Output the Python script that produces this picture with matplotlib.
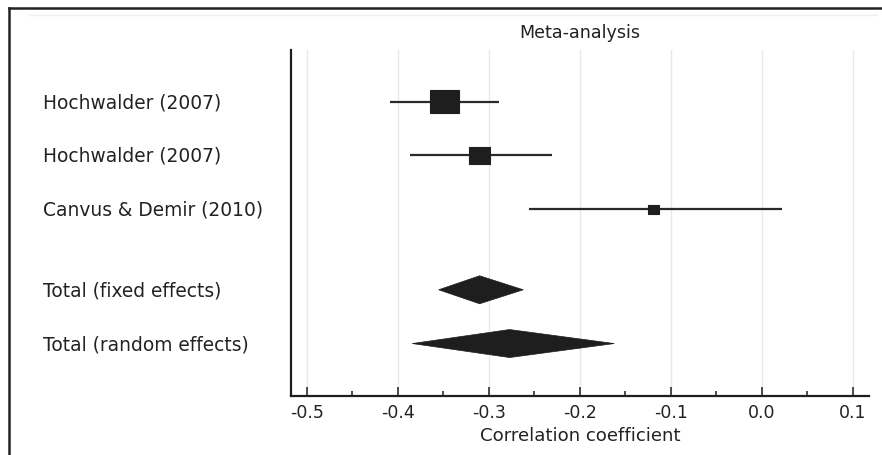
import matplotlib
matplotlib.use("Agg")
import matplotlib.pyplot as plt
from matplotlib.patches import Rectangle, Polygon
from matplotlib.lines import Line2D
from matplotlib.transforms import blended_transform_factory
from matplotlib.ticker import MultipleLocator
import numpy as np

# ---- data ----
study_labels = ["Hochwalder (2007)", "Hochwalder (2007)", "Canvus & Demir (2010)"]
study_r = [-0.349, -0.310, -0.119]
study_lo = [-0.409, -0.386, -0.256]
study_hi = [-0.289, -0.230, 0.022]
study_weight = [58.0, 32.5, 9.5]

pooled_labels = ["Total (fixed effects)", "Total (random effects)"]
pooled_r = [-0.310, -0.277]
pooled_lo = [-0.355, -0.384]
pooled_hi = [-0.262, -0.162]

x_ticks = [-0.5, -0.4, -0.3, -0.2, -0.1, 0.0, 0.1]
x_ticklabels = ["-0.5", "-0.4", "-0.3", "-0.2", "-0.1", "0.0", "0.1"]

title = "Meta-analysis"
xlabel = "Correlation coefficient"

# ---- figure ----
W, H, DPI = 882, 456, 100
fig = plt.figure(figsize=(W / DPI, H / DPI), dpi=DPI)
plt.rcParams['font.family'] = ['DejaVu Sans']
ink = '#1e1e1e'

ax = fig.add_axes([291 / W, 1 - 396.7 / H, (869 - 291) / W, (396.7 - 50.7) / H])
ax.set_xlim(-0.5173, 0.118)

study_y = [1, 2, 3]
pooled_y = [4.5, 5.5]
ax.set_ylim(6.47, 0.035)

# grid
ax.set_xticks(x_ticks)
ax.set_xticklabels(x_ticklabels)
ax.xaxis.set_minor_locator(MultipleLocator(0.05))
ax.grid(axis='x', which='major', color='#e8e8e8', lw=1.0, zorder=0)
ax.set_axisbelow(True)

for s in ['top', 'right']:
    ax.spines[s].set_visible(False)
for s in ['left', 'bottom']:
    ax.spines[s].set_linewidth(1.6)
    ax.spines[s].set_color(ink)
ax.set_yticks([])
ax.tick_params(axis='x', which='major', direction='in', length=6.5, width=1.1,
               color=ink, labelsize=12.5, labelcolor='#222222', pad=5)
ax.tick_params(axis='x', which='minor', direction='in', length=3.5, width=1.1, color=ink)

# pixel scale for marker sizes
ax_w_px = (869 - 291)
ax_h_px = (396.7 - 50.7)
px_per_x = ax_w_px / (0.118 + 0.5173)
px_per_y = ax_h_px / (6.47 - 0.035)

# studies
k = 3.81
for y, r, lo, hi, wgt in zip(study_y, study_r, study_lo, study_hi, study_weight):
    ax.plot([lo, hi], [y, y], color='#2a2a2a', lw=1.6, solid_capstyle='butt', zorder=2)
    side_w = k * np.sqrt(wgt)
    side_h = side_w / 1.3
    wd = side_w / px_per_x
    hd = side_h / px_per_y
    ax.add_patch(Rectangle((r - wd / 2, y - hd / 2), wd, hd, facecolor=ink,
                           edgecolor=ink, lw=0.8, zorder=3))

# pooled diamonds
dh = 14 / px_per_y
for y, r, lo, hi in zip(pooled_y, pooled_r, pooled_lo, pooled_hi):
    ax.add_patch(Polygon([[lo, y], [r, y - dh], [hi, y], [r, y + dh]], closed=True,
                         facecolor=ink, edgecolor=ink, lw=0.5, zorder=3))

# row labels
tr = blended_transform_factory(fig.transFigure, ax.transData)
for y, lab in zip(study_y + pooled_y, study_labels + pooled_labels):
    ax.text(43 / W, y, lab, transform=tr, ha='left', va='center', fontsize=13.4,
            color='#222222')

ax.set_title(title, fontsize=12.6, color='#222222', pad=9)
ax.set_xlabel(xlabel, fontsize=13.1, color='#222222', labelpad=4)

# frame lines of the figure
fig.add_artist(Line2D([9 / W, 1.0], [1 - 9 / H, 1 - 9 / H], transform=fig.transFigure,
                      color='#222222', lw=1.8))
fig.add_artist(Line2D([9 / W, 9 / W], [1 - 9 / H, 0.0], transform=fig.transFigure,
                      color='#222222', lw=1.8))
fig.add_artist(Line2D([29 / W, 877 / W], [1 - 15.5 / H, 1 - 15.5 / H], transform=fig.transFigure,
                      color='#eeeeee', lw=1.0))

fig.savefig("out.png", dpi=DPI)
